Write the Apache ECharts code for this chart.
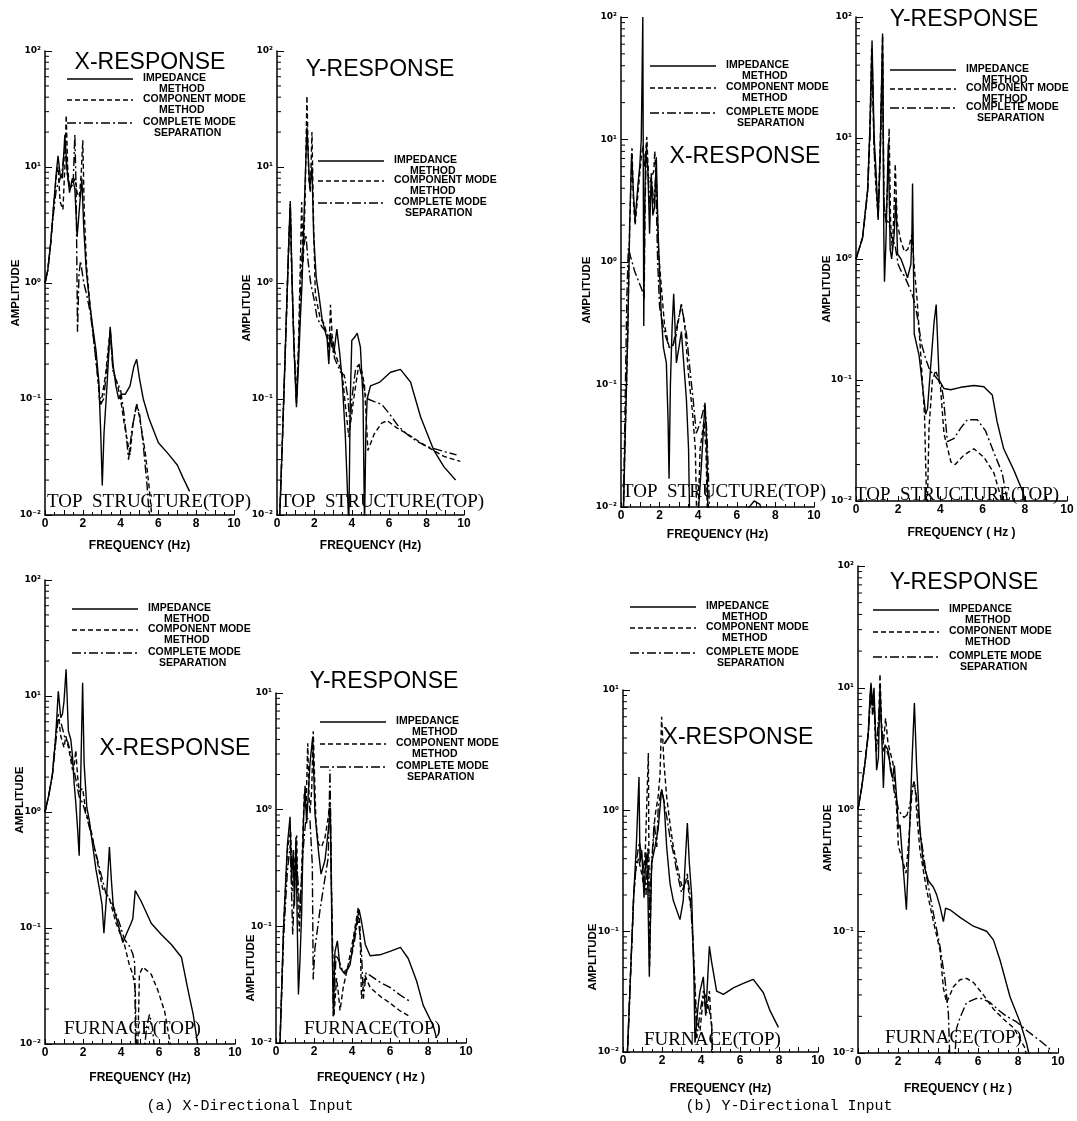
<!DOCTYPE html>
<html><head><meta charset="utf-8">
<script src="https://cdn.jsdelivr.net/npm/echarts@6.0.0/dist/echarts.min.js"></script>
<style>html,body{margin:0;padding:0;background:#fff}#c{width:1077px;height:1121px}</style>
</head><body><div id="c"></div>
<script>
// ---------- tick labels ----------
const xTickLabels = ['0','2','4','6','8','10'];
const yTickLabels = ['10\u207B\u00B2','10\u207B\u00B9','10\u2070','10\u00B9','10\u00B2'];
const minorMultipliers = [2,3,4,5,6,7,8,9];
const decadeStarts = [0.01,0.1,1,10];
const legendNames = ['IMPEDANCE','COMPONENT MODE','COMPLETE MODE'];
const legendSub = ['METHOD','METHOD','SEPARATION'];

// ---------- (a) X-directional input, top structure, X-response ----------
const a1Impedance = [[0,1.0],[0.15,1.3],[0.3,2.2],[0.45,4.5],[0.6,9],[0.69,12.5],[0.8,8.5],[0.92,8],[1.05,19],[1.18,9],[1.3,6],[1.45,8],[1.58,6.5],[1.7,2.5],[1.8,4],[1.95,8],[2.05,3],[2.18,1.3],[2.35,0.7],[2.5,0.45],[2.7,0.26],[2.85,0.14],[2.95,0.05],[3.03,0.018],[3.12,0.05],[3.28,0.13],[3.45,0.42],[3.6,0.2],[3.75,0.13],[3.9,0.1],[4.05,0.11],[4.25,0.11],[4.5,0.13],[4.7,0.19],[4.85,0.22],[5.0,0.15],[5.2,0.1],[5.5,0.068],[6.0,0.042],[6.5,0.034],[7.0,0.027],[7.3,0.021],[7.65,0.016]];
const a1Component = [[0,1.0],[0.15,1.3],[0.3,2.2],[0.45,4.5],[0.6,8.5],[0.69,10],[0.8,5],[0.95,4.3],[1.05,10],[1.12,28],[1.2,10],[1.3,6.5],[1.45,7],[1.6,8],[1.7,6],[1.82,5.5],[1.92,9],[2.0,17],[2.08,4],[2.2,1.4],[2.4,0.6],[2.6,0.3],[2.8,0.15],[2.9,0.09],[3.0,0.1],[3.2,0.16],[3.45,0.4],[3.6,0.18],[3.8,0.14],[4.0,0.1],[4.2,0.06],[4.4,0.04],[4.5,0.033],[4.65,0.06],[4.85,0.09],[5.0,0.07],[5.3,0.035],[5.5,0.018],[5.7,0.008]];
const a1Separation = [[0,1.0],[0.15,1.3],[0.3,2.2],[0.45,4],[0.6,6.5],[0.75,7.5],[0.9,9],[1.05,15],[1.2,8],[1.35,6.5],[1.5,8],[1.58,19],[1.65,6],[1.72,0.38],[1.8,1.2],[1.88,1.55],[1.95,1.3],[2.05,1.0],[2.2,0.8],[2.4,0.55],[2.6,0.3],[2.8,0.15],[2.95,0.09],[3.1,0.1],[3.3,0.2],[3.45,0.38],[3.6,0.17],[3.8,0.14],[4.0,0.12],[4.2,0.07],[4.35,0.04],[4.42,0.03],[4.6,0.055],[4.85,0.09],[5.0,0.075],[5.2,0.04],[5.4,0.018],[5.55,0.008]];

// ---------- (a) top structure, Y-response ----------
const a2Impedance = [[0.1,0.006],[0.3,0.05],[0.5,0.5],[0.62,2],[0.71,5.1],[0.8,1.2],[0.9,0.3],[1.04,0.085],[1.15,0.2],[1.25,0.5],[1.34,1.0],[1.45,4],[1.6,22],[1.75,6.6],[1.87,10],[1.96,2.6],[2.1,1.1],[2.23,0.81],[2.41,0.49],[2.6,0.37],[2.68,0.33],[2.77,0.2],[2.86,0.37],[3.04,0.25],[3.2,0.4],[3.35,0.25],[3.48,0.15],[3.65,0.05],[3.84,0.008],[3.92,0.1],[4.0,0.32],[4.15,0.34],[4.29,0.37],[4.46,0.28],[4.6,0.1],[4.68,0.008],[4.75,0.05],[4.82,0.1],[5.0,0.13],[5.5,0.14],[6.07,0.17],[6.6,0.18],[7.14,0.14],[7.68,0.07],[8.39,0.036],[8.93,0.026],[9.55,0.02]];
const a2Component = [[0.1,0.006],[0.3,0.05],[0.5,0.5],[0.62,2],[0.71,4.5],[0.8,1.0],[0.92,0.25],[1.04,0.1],[1.15,0.3],[1.25,1.5],[1.32,5],[1.4,1.5],[1.5,5],[1.6,41],[1.7,8],[1.78,6],[1.87,20],[1.96,3],[2.05,0.8],[2.3,0.5],[2.5,0.45],[2.7,0.35],[2.78,0.25],[2.86,0.65],[2.95,0.35],[3.1,0.25],[3.3,0.2],[3.48,0.17],[3.65,0.09],[3.84,0.047],[4.1,0.1],[4.38,0.2],[4.55,0.17],[4.68,0.13],[4.86,0.036],[5.2,0.05],[5.6,0.062],[5.9,0.065],[6.43,0.056],[7.14,0.048],[8.0,0.039],[8.93,0.032],[9.8,0.029]];
const a2Separation = [[0.1,0.006],[0.3,0.05],[0.5,0.5],[0.62,2],[0.71,4.8],[0.8,1.1],[0.92,0.28],[1.04,0.09],[1.15,0.25],[1.25,0.8],[1.34,1.8],[1.45,2.2],[1.55,2.6],[1.65,1.6],[1.8,1.0],[2.0,0.7],[2.14,0.5],[2.4,0.42],[2.68,0.37],[2.9,0.3],[3.1,0.22],[3.4,0.17],[3.6,0.16],[3.8,0.1],[3.9,0.06],[4.0,0.1],[4.2,0.18],[4.38,0.2],[4.55,0.15],[4.73,0.11],[4.86,0.1],[5.2,0.095],[5.6,0.09],[6.0,0.075],[6.5,0.058],[7.0,0.049],[7.5,0.043],[8.0,0.039],[8.5,0.037],[9.0,0.035],[9.6,0.033]];

// ---------- (b) Y-directional input, top structure, X-response ----------
const b1Impedance = [[0.1,0.006],[0.2,0.03],[0.35,0.26],[0.45,2],[0.55,7.7],[0.65,3.5],[0.73,2.2],[0.87,4.1],[0.97,6],[1.05,10],[1.13,100],[1.18,0.3],[1.22,2],[1.27,7.4],[1.39,6],[1.48,1.7],[1.57,5.3],[1.65,2.4],[1.74,2.8],[1.83,7.2],[1.91,2.0],[2.0,0.8],[2.09,0.36],[2.2,0.2],[2.35,0.15],[2.44,0.05],[2.49,0.017],[2.56,0.1],[2.65,0.3],[2.73,0.55],[2.8,0.3],[2.87,0.15],[3.0,0.2],[3.13,0.27],[3.25,0.15],[3.39,0.075],[3.5,0.03],[3.57,0.006],[3.9,0.005],[4.15,0.02],[4.35,0.071],[4.45,0.03],[4.52,0.006],[6.3,0.006],[6.6,0.0098],[6.9,0.0112],[7.2,0.0105],[7.4,0.008],[8,0.004]];
const b1Component = [[0.1,0.006],[0.2,0.03],[0.35,0.26],[0.45,2],[0.57,8.5],[0.65,3],[0.73,2.0],[0.87,3.5],[1.05,7.2],[1.15,9],[1.22,6],[1.34,10.5],[1.42,5],[1.5,4.5],[1.6,5],[1.7,5.5],[1.75,8],[1.85,4],[1.95,1.2],[2.1,0.6],[2.26,0.3],[2.5,0.2],[2.7,0.21],[2.85,0.25],[3.0,0.35],[3.13,0.45],[3.3,0.3],[3.5,0.12],[3.7,0.06],[3.85,0.03],[3.95,0.005],[4.1,0.03],[4.3,0.05],[4.4,0.03],[4.5,0.006]];
const b1Separation = [[0.1,0.006],[0.2,0.05],[0.3,0.5],[0.38,1.3],[0.5,1.1],[0.7,0.85],[0.9,0.7],[1.04,0.62],[1.15,0.55],[1.2,0.5],[1.25,3],[1.32,9],[1.4,5],[1.5,3],[1.6,4.5],[1.7,3],[1.8,5],[1.9,1.0],[2.0,0.43],[2.26,0.26],[2.52,0.2],[2.7,0.21],[2.9,0.3],[3.13,0.45],[3.39,0.26],[3.6,0.12],[3.74,0.075],[3.9,0.04],[4.09,0.048],[4.35,0.07],[4.45,0.04],[4.52,0.02],[4.6,0.008]];

// ---------- (b) top structure, Y-response ----------
const b2Impedance = [[0,1.0],[0.31,1.5],[0.55,3.7],[0.66,12],[0.76,64],[0.86,10],[0.94,5.7],[1.05,2.1],[1.15,8],[1.26,73],[1.32,1.5],[1.35,0.65],[1.42,1.4],[1.53,9],[1.62,1.2],[1.69,1.0],[1.81,1.6],[1.89,3.2],[1.97,1.1],[2.13,1.0],[2.28,0.85],[2.44,0.7],[2.52,0.72],[2.6,0.9],[2.65,1.6],[2.68,4.2],[2.76,0.24],[2.99,0.16],[3.15,0.09],[3.3,0.052],[3.39,0.058],[3.54,0.13],[3.7,0.3],[3.8,0.42],[3.94,0.1],[4.17,0.085],[4.49,0.083],[4.96,0.087],[5.59,0.09],[6.06,0.088],[6.46,0.075],[6.69,0.045],[7.0,0.027],[7.48,0.018],[7.9,0.012],[8.1,0.009]];
const b2Component = [[0,1.0],[0.31,1.5],[0.55,3.7],[0.66,12],[0.74,55],[0.86,8],[0.94,4],[1.05,2.3],[1.15,9],[1.26,70],[1.32,3],[1.42,2],[1.52,5],[1.57,12],[1.64,2],[1.72,1.2],[1.8,2.5],[1.86,6.1],[1.95,2],[2.13,1.4],[2.3,1.15],[2.45,1.2],[2.55,1.35],[2.65,1.6],[2.75,0.9],[2.9,0.45],[3.07,0.16],[3.25,0.05],[3.32,0.015],[3.36,0.006],[3.46,0.04],[3.62,0.1],[3.78,0.12],[4.0,0.09],[4.17,0.036],[4.5,0.021],[4.7,0.02],[5.12,0.024],[5.59,0.027],[6.06,0.023],[6.54,0.017],[6.85,0.011],[7.0,0.008]];
const b2Separation = [[0,1.0],[0.31,1.5],[0.55,3.5],[0.66,10],[0.76,50],[0.86,8],[0.94,4.5],[1.05,2.2],[1.15,7],[1.26,50],[1.32,3],[1.42,2.1],[1.55,2.0],[1.7,1.5],[1.85,1.3],[2.0,0.9],[2.13,0.8],[2.3,0.72],[2.5,0.6],[2.68,0.5],[2.8,0.42],[2.95,0.3],[3.1,0.2],[3.3,0.15],[3.5,0.12],[3.7,0.11],[3.9,0.1],[4.05,0.09],[4.15,0.07],[4.33,0.031],[4.65,0.033],[4.96,0.04],[5.28,0.047],[5.75,0.047],[6.14,0.038],[6.54,0.025],[6.93,0.017],[7.17,0.01],[7.3,0.008]];

// ---------- (a) furnace, X-response ----------
const a3Impedance = [[0,1.0],[0.2,1.4],[0.39,2.1],[0.56,4.4],[0.7,11],[0.83,6.5],[0.92,7],[1.0,9],[1.11,17],[1.23,5],[1.36,4.2],[1.45,3],[1.53,1.8],[1.62,1.2],[1.72,0.7],[1.8,0.42],[1.88,2],[1.98,13],[2.06,2.6],[2.2,1.1],[2.33,0.85],[2.5,0.53],[2.68,0.32],[2.86,0.22],[3.0,0.16],[3.1,0.09],[3.17,0.09],[3.25,0.2],[3.39,0.5],[3.5,0.25],[3.6,0.15],[3.83,0.11],[4.1,0.075],[4.3,0.09],[4.53,0.11],[4.62,0.12],[4.75,0.21],[5.06,0.17],[5.59,0.11],[6.12,0.088],[6.65,0.072],[7.18,0.056],[7.53,0.029],[7.8,0.018],[8.05,0.0095]];
const a3Component = [[0,1.0],[0.2,1.4],[0.39,2.1],[0.56,4.4],[0.7,7],[0.83,4.5],[1.0,3.6],[1.1,4.5],[1.25,3.5],[1.45,2.3],[1.55,2.6],[1.62,3.4],[1.72,2.0],[1.8,1.5],[1.98,1.6],[2.15,1.0],[2.42,0.7],[2.77,0.36],[3.03,0.22],[3.2,0.2],[3.39,0.18],[3.74,0.11],[4.18,0.072],[4.44,0.048],[4.62,0.04],[4.75,0.03],[4.83,0.006],[4.9,0.012],[4.97,0.04],[5.15,0.046],[5.59,0.04],[5.94,0.029],[6.3,0.019],[6.55,0.011],[6.7,0.008]];
const a3Separation = [[0,1.0],[0.2,1.4],[0.39,2.1],[0.56,3.9],[0.7,6.5],[0.85,5.8],[1.04,4.4],[1.2,4.0],[1.3,3.5],[1.45,2.6],[1.6,2.0],[1.8,1.35],[1.98,1.2],[2.24,0.85],[2.6,0.5],[2.95,0.29],[3.2,0.2],[3.56,0.16],[3.92,0.11],[4.18,0.08],[4.44,0.07],[4.62,0.06],[4.72,0.05],[4.78,0.006],[5.2,0.008],[5.35,0.014],[5.5,0.018],[5.65,0.014],[5.8,0.008]];

// ---------- (a) furnace, Y-response ----------
const a4Impedance = [[0.15,0.006],[0.21,0.01],[0.4,0.1],[0.6,0.5],[0.74,0.87],[0.82,0.25],[0.91,0.45],[0.97,0.15],[1.05,0.58],[1.12,0.1],[1.18,0.026],[1.26,0.05],[1.35,0.13],[1.44,0.76],[1.53,1.6],[1.61,0.76],[1.7,0.76],[1.79,2.5],[1.93,4.2],[2.05,0.93],[2.23,0.45],[2.37,0.28],[2.58,0.37],[2.75,0.66],[2.86,1.0],[2.93,0.13],[3.02,0.017],[3.1,0.06],[3.23,0.075],[3.37,0.044],[3.63,0.039],[3.9,0.047],[4.16,0.09],[4.37,0.14],[4.5,0.11],[4.7,0.07],[4.95,0.056],[5.47,0.057],[6.0,0.061],[6.55,0.066],[6.96,0.053],[7.4,0.034],[7.75,0.021],[8.28,0.014],[8.45,0.011]];
const a4Component = [[0.15,0.006],[0.21,0.01],[0.4,0.1],[0.6,0.45],[0.77,0.66],[0.85,0.2],[0.95,0.3],[1.09,0.6],[1.16,0.15],[1.23,0.09],[1.35,0.3],[1.49,1.4],[1.58,1.0],[1.67,3.7],[1.74,1.3],[1.79,0.93],[1.88,1.5],[1.96,4.7],[2.1,0.8],[2.23,0.51],[2.4,0.48],[2.58,0.58],[2.75,0.86],[2.84,1.2],[2.9,0.3],[3.05,0.017],[3.19,0.036],[3.3,0.025],[3.37,0.019],[3.54,0.03],[3.8,0.047],[4.07,0.08],[4.33,0.145],[4.42,0.1],[4.5,0.024],[4.68,0.038],[4.95,0.03],[5.5,0.025],[6.0,0.022],[6.5,0.019],[7.0,0.017]];
const a4Separation = [[0.15,0.006],[0.21,0.01],[0.4,0.08],[0.6,0.3],[0.75,0.5],[0.88,0.085],[1.05,0.45],[1.15,0.25],[1.26,0.13],[1.4,0.4],[1.56,0.8],[1.7,0.85],[1.79,0.8],[1.91,0.34],[1.96,0.035],[2.05,0.065],[2.32,0.14],[2.58,0.26],[2.75,0.39],[2.84,2.2],[2.93,0.18],[3.02,0.017],[3.16,0.057],[3.33,0.05],[3.54,0.04],[3.8,0.044],[4.07,0.065],[4.33,0.12],[4.5,0.06],[4.6,0.024],[4.74,0.04],[4.95,0.038],[5.5,0.033],[6.0,0.03],[6.5,0.026],[7.0,0.023]];

// ---------- (b) furnace, X-response ----------
const b3Impedance = [[0.15,0.006],[0.25,0.012],[0.4,0.05],[0.55,0.2],[0.68,0.5],[0.82,1.9],[0.87,0.37],[0.96,0.47],[1.08,0.19],[1.18,0.45],[1.26,0.3],[1.35,0.042],[1.47,0.37],[1.64,0.5],[1.8,0.7],[1.98,1.5],[2.1,1.2],[2.24,0.5],[2.41,0.25],[2.58,0.18],[2.75,0.15],[2.92,0.125],[3.09,0.18],[3.2,0.4],[3.3,0.79],[3.4,0.37],[3.52,0.2],[3.64,0.04],[3.69,0.012],[3.86,0.025],[3.95,0.032],[4.12,0.042],[4.24,0.02],[4.43,0.075],[4.55,0.055],[4.8,0.032],[5.15,0.03],[5.66,0.034],[6.17,0.037],[6.68,0.04],[7.2,0.031],[7.54,0.022],[7.97,0.016]];
const b3Component = [[0.15,0.006],[0.25,0.012],[0.4,0.05],[0.55,0.2],[0.68,0.35],[0.8,0.4],[0.87,0.35],[0.96,0.3],[1.04,0.25],[1.15,0.5],[1.3,3.0],[1.36,0.05],[1.45,0.3],[1.64,0.9],[1.8,1.3],[1.9,2],[1.98,6],[2.1,2.5],[2.24,1.3],[2.41,0.78],[2.58,0.5],[2.75,0.37],[2.92,0.27],[3.09,0.22],[3.2,0.25],[3.3,0.3],[3.38,0.2],[3.52,0.14],[3.64,0.054],[3.78,0.018],[3.95,0.015],[4.12,0.029],[4.29,0.021],[4.43,0.032],[4.55,0.015],[4.6,0.008]];
const b3Separation = [[0.15,0.006],[0.25,0.012],[0.4,0.05],[0.55,0.2],[0.7,0.4],[0.84,0.55],[1.0,0.39],[1.1,0.3],[1.18,0.2],[1.28,0.5],[1.36,0.15],[1.47,0.37],[1.6,0.8],[1.73,0.5],[1.81,1.1],[1.98,1.5],[2.1,1.2],[2.24,0.9],[2.41,0.6],[2.58,0.45],[2.75,0.32],[3.0,0.21],[3.18,0.25],[3.32,0.28],[3.44,0.2],[3.6,0.075],[3.78,0.013],[3.95,0.021],[4.12,0.032],[4.24,0.029],[4.43,0.022],[4.55,0.017],[4.6,0.008]];

// ---------- (b) furnace, Y-response ----------
const b4Impedance = [[0,1.0],[0.18,1.5],[0.35,2.4],[0.52,4.4],[0.6,8.5],[0.65,11],[0.73,7.2],[0.8,10],[0.88,4],[0.93,2.1],[1.02,2.65],[1.1,10.5],[1.18,4.4],[1.27,1.5],[1.35,3.4],[1.45,3.2],[1.52,3.0],[1.63,2.1],[1.73,1.8],[1.82,2.3],[1.93,1.25],[2.02,0.7],[2.1,0.75],[2.25,0.35],[2.42,0.15],[2.55,0.5],[2.7,2.5],[2.82,7.5],[2.93,2.3],[3.1,0.67],[3.27,0.36],[3.52,0.26],[3.77,0.23],[3.93,0.2],[4.1,0.16],[4.27,0.12],[4.38,0.155],[4.6,0.15],[5.1,0.13],[5.77,0.11],[6.43,0.1],[6.77,0.085],[7.1,0.058],[7.6,0.029],[8.1,0.018],[8.43,0.012],[8.6,0.009]];
const b4Component = [[0,1.0],[0.18,1.5],[0.35,2.4],[0.52,4.4],[0.6,8],[0.65,10],[0.73,6],[0.8,8],[0.9,3],[1.0,3.5],[1.1,13],[1.18,5],[1.27,3.5],[1.38,5.6],[1.5,3.5],[1.6,3.4],[1.75,2.4],[1.85,1.5],[1.93,1.0],[2.02,0.5],[2.27,0.36],[2.4,0.3],[2.55,0.6],[2.7,1.4],[2.85,1.6],[2.95,0.86],[3.1,0.46],[3.43,0.22],[3.77,0.12],[4.1,0.07],[4.27,0.034],[4.43,0.026],[4.6,0.03],[4.77,0.035],[5.1,0.04],[5.43,0.041],[5.77,0.038],[6.27,0.03],[6.77,0.023],[7.27,0.019],[7.8,0.016],[8.1,0.013],[8.35,0.011],[8.5,0.008]];
const b4Separation = [[0,1.0],[0.18,1.5],[0.35,2.4],[0.52,4.2],[0.6,7],[0.65,9],[0.73,6],[0.8,8],[0.9,3],[1.0,3],[1.1,8],[1.18,4.5],[1.27,3],[1.35,3.4],[1.6,2.5],[1.85,1.25],[1.93,1.2],[2.02,1.0],[2.15,0.92],[2.3,0.86],[2.45,0.9],[2.6,1.1],[2.72,1.5],[2.8,1.7],[2.93,1.25],[3.1,0.67],[3.43,0.28],[3.77,0.14],[4.1,0.075],[4.35,0.04],[4.52,0.021],[4.6,0.008],[4.8,0.007],[4.93,0.016],[5.1,0.0195],[5.43,0.026],[5.9,0.028],[6.18,0.028],[6.6,0.026],[7.1,0.022],[7.43,0.02],[7.93,0.018],[8.5,0.015],[9.0,0.013],[9.55,0.011],[9.7,0.009]];

// ---------- layout (styles only) ----------
const panels = [
  {grid:{left:45,top:51,width:189,height:464}, yMax:100, data:[a1Impedance,a1Component,a1Separation], xName:'FREQUENCY (Hz)', gap:25,
   title:'X-RESPONSE', tx:150, ty:63, note:'TOP  STRUCTURE(TOP)', nx:47, ny:502, amp:[16,293], leg:[67,[79,100,123]]},
  {grid:{left:277,top:51,width:187,height:464}, yMax:100, data:[a2Impedance,a2Component,a2Separation], xName:'FREQUENCY (Hz)', gap:25,
   title:'Y-RESPONSE', tx:380, ty:70, note:'TOP  STRUCTURE(TOP)', nx:280, ny:502, amp:[247,308], leg:[318,[161,181,203]]},
  {grid:{left:621,top:17,width:193,height:490}, yMax:100, data:[b1Impedance,b1Component,b1Separation], xName:'FREQUENCY (Hz)', gap:22,
   title:'X-RESPONSE', tx:745, ty:157, note:'TOP  STRUCTURE(TOP)', nx:622, ny:492, amp:[587,290], leg:[650,[66,88,113]]},
  {grid:{left:856,top:17,width:211,height:484}, yMax:100, data:[b2Impedance,b2Component,b2Separation], xName:'FREQUENCY ( Hz )', gap:26,
   title:'Y-RESPONSE', tx:964, ty:20, note:'TOP  STRUCTURE(TOP)', nx:855, ny:495, amp:[827,289], leg:[890,[70,89,108]]},
  {grid:{left:45,top:580,width:190,height:464}, yMax:100, data:[a3Impedance,a3Component,a3Separation], xName:'FREQUENCY (Hz)', gap:28,
   title:'X-RESPONSE', tx:175, ty:749, note:'FURNACE(TOP)', nx:64, ny:1029, amp:[20,800], leg:[72,[609,630,653]]},
  {grid:{left:276,top:693,width:190,height:350}, yMax:10, data:[a4Impedance,a4Component,a4Separation], xName:'FREQUENCY ( Hz )', gap:29,
   title:'Y-RESPONSE', tx:384, ty:682, note:'FURNACE(TOP)', nx:304, ny:1029, amp:[251,968], leg:[320,[722,744,767]]},
  {grid:{left:623,top:690,width:195,height:362}, yMax:10, data:[b3Impedance,b3Component,b3Separation], xName:'FREQUENCY (Hz)', gap:31,
   title:'X-RESPONSE', tx:738, ty:738, note:'FURNACE(TOP)', nx:644, ny:1040, amp:[593,957], leg:[630,[607,628,653]]},
  {grid:{left:858,top:566,width:200,height:487}, yMax:100, data:[b4Impedance,b4Component,b4Separation], xName:'FREQUENCY ( Hz )', gap:30,
   title:'Y-RESPONSE', tx:964, ty:583, note:'FURNACE(TOP)', nx:885, ny:1038, amp:[828,838], leg:[873,[610,632,657]]}
];
const lineTypes = ['solid',[5,3],[9,3,2,3]];
const captions = [['(a) X-Directional Input',250,1106],['(b) Y-Directional Input',789,1106]];

const grids=[], xAxes=[], yAxes=[], series=[], graphics=[];
const bold = 'bold 10.5px "Liberation Sans", Arial, sans-serif';
panels.forEach((p,i)=>{
  grids.push(Object.assign({containLabel:false}, p.grid));
  xAxes.push({type:'value', gridIndex:i, min:0, max:10, interval:1,
    name:p.xName, nameLocation:'middle', nameGap:p.gap,
    nameTextStyle:{color:'#000', fontSize:12, fontWeight:'bold', fontFamily:'Liberation Sans'},
    axisLine:{onZero:false, lineStyle:{color:'#000', width:1.5}},
    axisTick:{inside:true, length:5, lineStyle:{color:'#000', width:1}},
    minorTick:{show:true, splitNumber:2, length:3, lineStyle:{color:'#000', width:1}},
    axisLabel:{color:'#000', fontSize:12, fontWeight:'bold', fontFamily:'Liberation Sans', margin:3,
      formatter:v=> (Math.round(v)%2===0 ? xTickLabels[Math.round(v)/2] : '')},
    splitLine:{show:false}});
  yAxes.push({type:'log', logBase:10, gridIndex:i, min:0.01, max:p.yMax,
    axisLine:{show:true, onZero:false, lineStyle:{color:'#000', width:1.5}},
    axisTick:{show:true, inside:true, length:7, lineStyle:{color:'#000', width:1}},
    axisLabel:{color:'#000', fontSize:9, fontWeight:'bold', fontFamily:'DejaVu Sans', margin:4,
      formatter:v=> yTickLabels[Math.round(Math.log10(v))+2]},
    splitLine:{show:false}});
  p.data.forEach((d,k)=>{
    series.push({type:'line', name:legendNames[k], xAxisIndex:i, yAxisIndex:i, data:d, symbol:'none',
      clip:true, silent:true, lineStyle:{color:'#000', width:1.4, type:lineTypes[k]}});
  });
  const minors=[];
  decadeStarts.forEach(d=>minorMultipliers.forEach(m=>{ if(d*m < p.yMax) minors.push([0,d*m]); }));
  series.push({type:'custom', xAxisIndex:i, yAxisIndex:i, data:minors, silent:true, clip:false, z:5,
    renderItem:(params, api)=>{ const pt=api.coord([api.value(0), api.value(1)]);
      return {type:'line', shape:{x1:pt[0], y1:pt[1], x2:pt[0]+4, y2:pt[1]}, style:{stroke:'#000', lineWidth:1}}; }});
  // titles (thin look: white outline drawn over black fill) and notes
  graphics.push({type:'text', x:p.tx, y:p.ty, z:10, style:{text:p.title, fill:'#000', stroke:'#fff', lineWidth:0.9, strokeFirst:false, font:'23px "Liberation Sans", Arial, sans-serif', align:'center', verticalAlign:'middle', textAlign:'center', textVerticalAlign:'middle'}});
  graphics.push({type:'text', x:p.nx, y:p.ny, style:{text:p.note, fill:'#000', font:'19px "Liberation Serif", "Times New Roman", serif', align:'left', verticalAlign:'middle', textAlign:'left', textVerticalAlign:'middle'}});
  graphics.push({type:'text', x:p.amp[0], y:p.amp[1], rotation:Math.PI/2, style:{text:'AMPLITUDE', fill:'#000', font:'bold 11.5px "Liberation Sans", Arial, sans-serif', align:'center', verticalAlign:'middle', textAlign:'center', textVerticalAlign:'middle'}});
  // legend block
  const lx=p.leg[0];
  p.leg[1].forEach((ly,k)=>{
    graphics.push({type:'line', shape:{x1:lx, y1:ly, x2:lx+66, y2:ly}, style:{stroke:'#000', lineWidth:1.4, lineDash: k===0?null:lineTypes[k]}});
    graphics.push({type:'text', x:lx+76, y:ly-1, style:{text:legendNames[k], fill:'#000', font:bold, align:'left', verticalAlign:'middle', textAlign:'left', textVerticalAlign:'middle'}});
    graphics.push({type:'text', x:lx+76+(k===2?11:16), y:ly+10.5, style:{text:legendSub[k], fill:'#000', font:bold, align:'left', verticalAlign:'middle', textAlign:'left', textVerticalAlign:'middle'}});
  });
});
captions.forEach(c=>graphics.push({type:'text', x:c[1], y:c[2], style:{text:c[0], fill:'#000', font:'15px "Liberation Mono", "Courier New", monospace', align:'center', verticalAlign:'middle', textAlign:'center', textVerticalAlign:'middle'}}));

const chart = echarts.init(document.getElementById('c'), null, {renderer:'canvas'});
chart.setOption({animation:false, backgroundColor:'#fff', textStyle:{fontFamily:'Liberation Sans'},
  grid:grids, xAxis:xAxes, yAxis:yAxes, series:series, graphic:graphics});
</script>
</body></html>
